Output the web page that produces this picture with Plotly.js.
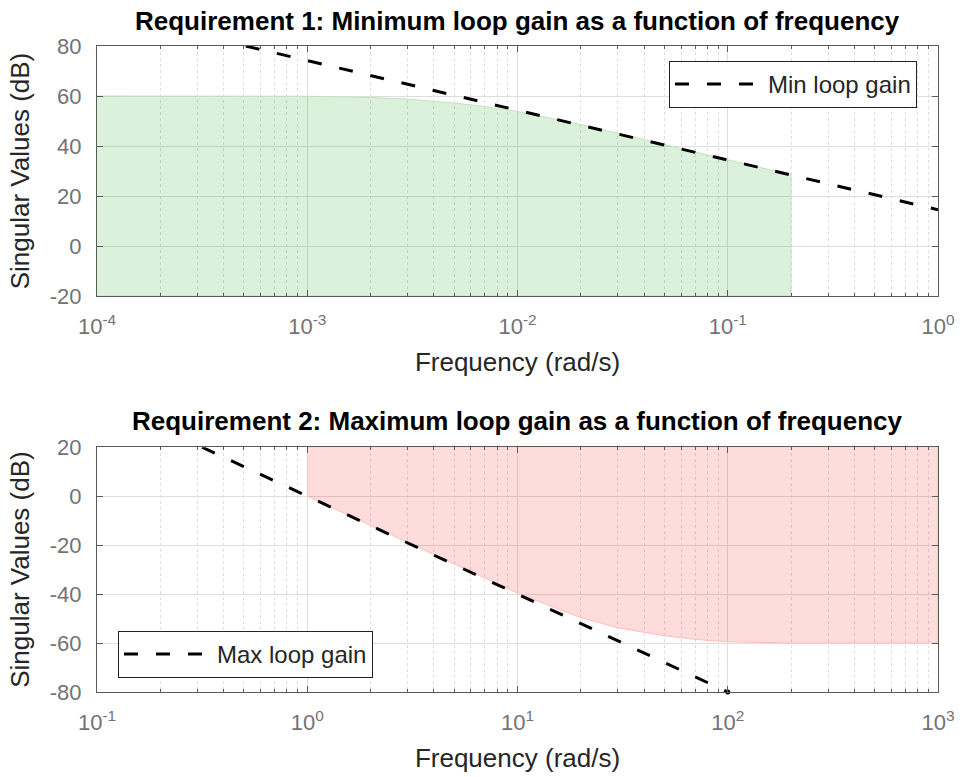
<!DOCTYPE html>
<html>
<head>
<meta charset="utf-8">
<script src="https://cdn.plot.ly/plotly-3.0.1.min.js"></script>
<style>html,body{margin:0;padding:0;background:#fff;}#chart{width:963px;height:777px;}</style>
</head>
<body>
<div id="chart"></div>
<script>
// ---- Requirement 1 (minimum loop gain) ----
var req1Freq = [1e-4, 5e-4, 1e-3, 2e-3, 3e-3, 5e-3, 7e-3, 1e-2, 2e-2, 3e-2, 5e-2, 0.1, 0.2];
var req1Bound = [60, 60, 59.9, 59.4, 58.8, 57.2, 55.8, 53.8, 48.6, 45.1, 40.5, 34.5, 28.5];
var req1Floor = -20;
var minGainFreq = [5.1e-4, 1];
var minGainDb = [80, 14.5];

// ---- Requirement 2 (maximum loop gain) ----
var req2Freq = [1, 2, 3, 5, 7, 10, 15, 20, 30, 50, 70, 100, 200, 1000];
var req2Bound = [0, -12, -19, -27.8, -33.5, -39.6, -45.5, -49.6, -53.8, -57, -58.5, -59.5, -60, -60];
var req2Ceil = 20;
var maxGainFreq = [0.316, 100];
var maxGainDb = [20, -80];

// ---- tick labels ----
var x1TickVals = [1e-4, 1e-3, 1e-2, 1e-1, 1];
var x1TickText = ['10<sup>-4</sup>', '10<sup>-3</sup>', '10<sup>-2</sup>', '10<sup>-1</sup>', '10<sup>0</sup>'];
var x2TickVals = [0.1, 1, 10, 100, 1000];
var x2TickText = ['10<sup>-1</sup>', '10<sup>0</sup>', '10<sup>1</sup>', '10<sup>2</sup>', '10<sup>3</sup>'];
var y1TickVals = [-20, 0, 20, 40, 60, 80];
var y1TickText = ['-20', '0', '20', '40', '60', '80'];
var y2TickVals = [-80, -60, -40, -20, 0, 20];
var y2TickText = ['-80', '-60', '-40', '-20', '0', '20'];

function minorVals(lo, hi) {
  var v = [];
  for (var e = lo; e < hi; e++) for (var m = 2; m <= 9; m++) v.push(m * Math.pow(10, e));
  return v;
}

var FONT = 'Liberation Sans, Arial, Helvetica, sans-serif';
var tickColor = 'rgb(115,115,115)';
var axisColor = 'rgb(90,90,90)';
var labelColor = 'rgb(38,38,38)';

var greenPolyX = req1Freq.concat([req1Freq[req1Freq.length - 1], req1Freq[0]]);
var greenPolyY = req1Bound.concat([req1Floor, req1Floor]);
var redPolyX = req2Freq.concat([req2Freq[req2Freq.length - 1], req2Freq[0]]);
var redPolyY = req2Bound.concat([req2Ceil, req2Ceil]);

var traces = [
  {x: greenPolyX, y: greenPolyY, xaxis: 'x', yaxis: 'y', type: 'scatter', mode: 'lines',
   fill: 'toself', fillcolor: 'rgba(0,150,0,0.137)', line: {color: 'rgb(192,228,192)', width: 1},
   showlegend: false, hoverinfo: 'skip'},
  {x: minGainFreq, y: minGainDb, xaxis: 'x', yaxis: 'y', type: 'scatter', mode: 'lines',
   name: 'Min loop gain', line: {color: '#000', width: 3, dash: '14px,18px'}, legend: 'legend'},
  {x: redPolyX, y: redPolyY, xaxis: 'x2', yaxis: 'y2', type: 'scatter', mode: 'lines',
   fill: 'toself', fillcolor: 'rgba(255,0,0,0.137)', line: {color: 'rgb(255,188,188)', width: 1},
   showlegend: false, hoverinfo: 'skip'},
  {x: maxGainFreq, y: maxGainDb, xaxis: 'x2', yaxis: 'y2', type: 'scatter', mode: 'lines',
   name: 'Max loop gain', line: {color: '#000', width: 3, dash: '14px,18px'}, legend: 'legend2'},
  {x: [maxGainFreq[1]], y: [maxGainDb[1]], xaxis: 'x2', yaxis: 'y2', type: 'scatter', mode: 'markers',
   marker: {color: '#000', size: 5}, showlegend: false, hoverinfo: 'skip', cliponaxis: false}
];

function xAxis(range, tv, tt, minor, anchor) {
  return {
    type: 'log', range: range, domain: [0, 1], anchor: anchor,
    tickmode: 'array', tickvals: tv, ticktext: tt,
    showline: true, linecolor: axisColor, linewidth: 1, mirror: 'ticks',
    ticks: 'inside', ticklen: 6, tickcolor: axisColor,
    showgrid: true, gridcolor: 'rgb(222,222,222)', gridwidth: 1,
    zeroline: false,
    tickfont: {family: FONT, size: 22, color: tickColor},
    ticklabelstandoff: 11,
    minor: {tickmode: 'array', tickvals: minor, ticks: 'inside', ticklen: 3, tickcolor: axisColor,
            showgrid: true, gridcolor: 'rgb(222,222,222)', griddash: 'dot', gridwidth: 1},
    title: {text: 'Frequency (rad/s)', font: {family: FONT, size: 26, color: labelColor}, standoff: 14}
  };
}
function yAxis(range, domain, anchor, tv, tt) {
  return {
    range: range, domain: domain, anchor: anchor,
    tickmode: 'array', tickvals: tv, ticktext: tt,
    showline: true, linecolor: axisColor, linewidth: 1, mirror: 'ticks',
    ticks: 'inside', ticklen: 6, tickcolor: axisColor,
    showgrid: true, gridcolor: 'rgb(222,222,222)', gridwidth: 1,
    zeroline: false,
    tickfont: {family: FONT, size: 22, color: tickColor},
    ticklabelstandoff: 10,
    title: {text: 'Singular Values (dB)', font: {family: FONT, size: 26, color: labelColor}, standoff: 12}
  };
}

var layout = {
  width: 963, height: 777,
  margin: {l: 97, r: 25, t: 46, b: 85},
  paper_bgcolor: '#fff', plot_bgcolor: '#fff',
  font: {family: FONT},
  xaxis: xAxis([-4, 0], x1TickVals, x1TickText, minorVals(-4, 0), 'y'),
  yaxis: yAxis([-20, 80], [0.613, 1], 'x', y1TickVals, y1TickText),
  xaxis2: xAxis([-1, 3], x2TickVals, x2TickText, minorVals(-1, 3), 'y2'),
  yaxis2: yAxis([-80, 20], [0, 0.379], 'x2', y2TickVals, y2TickText),
  legend: {x: 0.975, xanchor: 'right', y: 0.977, yanchor: 'top', bgcolor: '#fff',
           bordercolor: '#222', borderwidth: 1, font: {family: FONT, size: 24, color: labelColor},
           itemwidth: 88},
  legend2: {x: 0.025, xanchor: 'left', y: 0.022, yanchor: 'bottom', bgcolor: '#fff',
           bordercolor: '#222', borderwidth: 1, font: {family: FONT, size: 24, color: labelColor},
           itemwidth: 88},
  annotations: [
    {text: '<b>Requirement 1: Minimum loop gain as a function of frequency</b>', xref: 'paper', yref: 'paper',
     x: 0.5, y: 1.0387, xanchor: 'center', yanchor: 'middle', showarrow: false,
     font: {family: FONT, size: 26, color: '#000'}},
    {text: '<b>Requirement 2: Maximum loop gain as a function of frequency</b>', xref: 'paper', yref: 'paper',
     x: 0.5, y: 0.4195, xanchor: 'center', yanchor: 'middle', showarrow: false,
     font: {family: FONT, size: 26, color: '#000'}}
  ]
};

Plotly.newPlot('chart', traces, layout, {staticPlot: true});
</script>
</body>
</html>
